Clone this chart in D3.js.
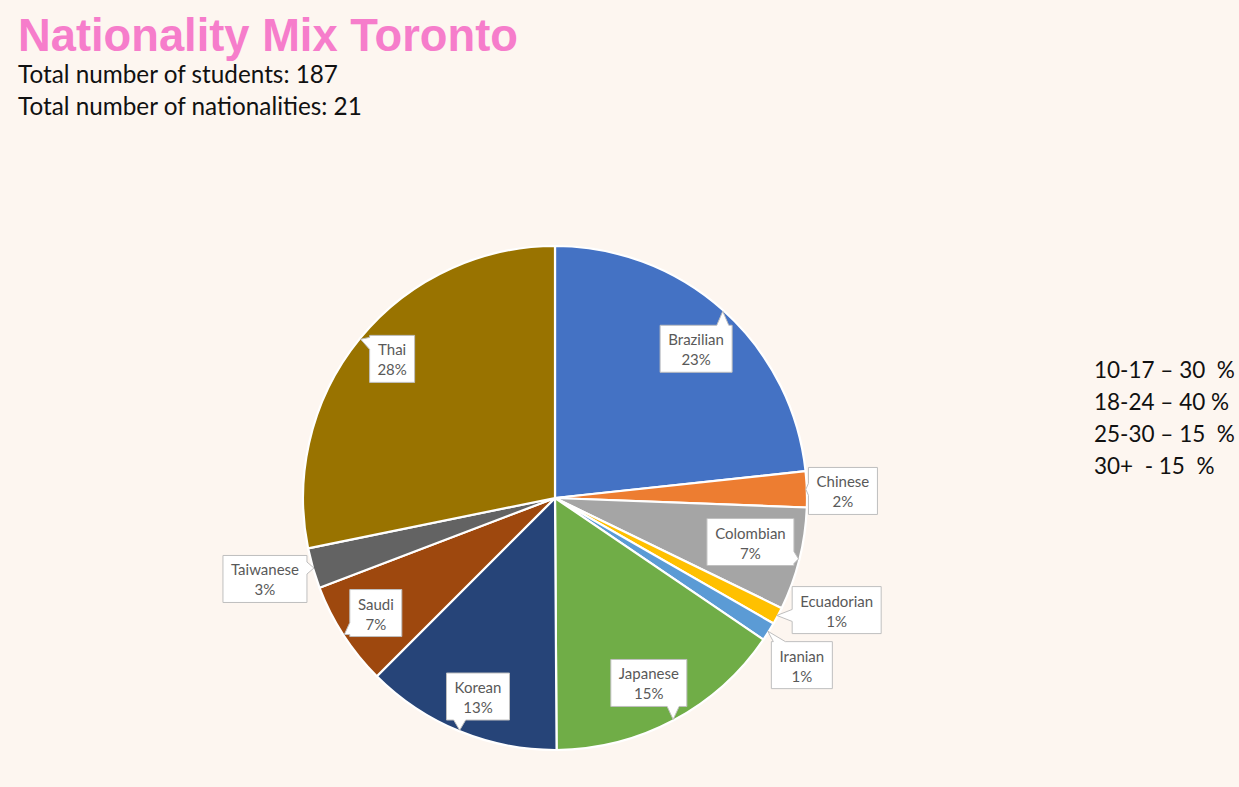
<!DOCTYPE html>
<html>
<head>
<meta charset="utf-8">
<script src="https://cdn.jsdelivr.net/npm/d3@7/dist/d3.min.js"></script>
<style>
  html, body { margin: 0; padding: 0; background: #FDF6F0; }
  svg { display: block; }
</style>
</head>
<body>
<svg id="chart" width="1239" height="787"></svg>
<script>
// ---- data ----
const categories = ["Brazilian", "Chinese", "Colombian", "Ecuadorian", "Iranian",
                    "Japanese", "Korean", "Saudi", "Taiwanese", "Thai"];
const values = [23.3, 2.3, 6.6, 1.1, 1.2, 15.4, 12.6, 6.7, 2.6, 28.2];
const colors = ["#4472C4", "#ED7D31", "#A5A5A5", "#FFC000", "#5B9BD5",
                "#70AD47", "#264478", "#9E480E", "#636363", "#997300"];
const titleText = "Nationality Mix Toronto";
const subtitleLines = ["Total number of students: 187", "Total number of nationalities: 21"];
const ageLines = ["10-17 \u2013 30  %", "18-24 \u2013 40 %", "25-30 \u2013 15  %", "30+  - 15  %"];

// label placement (angle in degrees clockwise from top, radius as fraction of pie radius)
const labelPlacement = {
  Brazilian: [43.4, 0.815], Chinese: [88.6, 1.143], Colombian: [102.7, 0.795],
  Ecuadorian: [111.7, 1.203], Iranian: [124.1, 1.183], Japanese: [153.1, 0.823],
  Korean: [201.2, 0.845], Saudi: [237.3, 0.845], Taiwanese: [254.4, 1.195],
  Thai: [310.5, 0.85]
};

const svg = d3.select("#chart");
const W = 1239, H = 787;
svg.append("rect").attr("width", W).attr("height", H).attr("fill", "#FDF6F0");

// title
svg.append("text").attr("x", 18).attr("y", 51)
  .attr("font-family", "Liberation Sans, Arial, sans-serif")
  .attr("font-weight", "bold").attr("font-size", 45.3)
  .attr("fill", "#F67DCB").text(titleText);

const bodyFont = "Lato, Carlito, Calibri, sans-serif";
svg.selectAll("text.sub").data(subtitleLines).join("text").attr("class", "sub")
  .attr("x", 18).attr("y", (d, i) => 83 + i * 32)
  .attr("font-family", bodyFont)
  .attr("font-size", 24.3).attr("fill", "#111").text(d => d);

svg.selectAll("text.age").data(ageLines).join("text").attr("class", "age")
  .attr("x", 1094).attr("y", (d, i) => 378 + i * 32)
  .style("white-space", "pre")
  .attr("font-family", bodyFont)
  .attr("font-size", 22.5).attr("fill", "#111").text(d => d);

// pie
const cx = 555, cy = 498, R = 252;
const total = d3.sum(values);
const rows = categories.map((c, i) => ({ name: c, value: values[i], color: colors[i] }));
const pie = d3.pie().value(d => d.value).sort(null);
const arcs = pie(rows);
const arc = d3.arc().innerRadius(0).outerRadius(R);

const g = svg.append("g").attr("transform", `translate(${cx},${cy})`);
g.selectAll("path.slice").data(arcs).join("path").attr("class", "slice")
  .attr("d", arc).attr("fill", d => d.data.color)
  .attr("stroke", "#ffffff").attr("stroke-width", 2.2).attr("stroke-linejoin", "round");

// callouts
const pct = d3.format(".0%");
const polar = (deg, r) => {
  const a = deg * Math.PI / 180;
  return [r * Math.sin(a), -r * Math.cos(a)];
};
const lblSize = 15;
const measure = svg.append("text").attr("font-family", bodyFont).attr("font-size", lblSize).attr("opacity", 0);

arcs.forEach(d => {
  const name = d.data.name;
  const mid = (d.startAngle + d.endAngle) / 2;
  const tip = [ (R - 1) * Math.sin(mid), -(R - 1) * Math.cos(mid) ];
  const [ang, rf] = labelPlacement[name];
  const c = polar(ang, rf * R);
  const l1 = name, l2 = pct(d.data.value / total);
  measure.text(l1); const w1 = measure.node().getComputedTextLength();
  measure.text(l2); const w2 = measure.node().getComputedTextLength();
  const bw = Math.round(Math.max(w1, w2) + 16), bh = 47;
  const x0 = c[0] - bw / 2, y0 = c[1] - bh / 2, x1 = x0 + bw, y1 = y0 + bh;

  const ndx = (tip[0] - c[0]) / (bw / 2), ndy = (tip[1] - c[1]) / (bh / 2);
  const inside = Math.abs(ndx) <= 1 && Math.abs(ndy) <= 1;
  const hw = 6;
  const clamp = (v, a, b) => Math.max(a, Math.min(b, v));
  let p;
  if (inside) {
    p = `M${x0},${y0}H${x1}V${y1}H${x0}Z`;
  } else if (Math.abs(ndy) >= Math.abs(ndx)) {
    const bx = clamp(tip[0], x0 + hw + 2, x1 - hw - 2);
    if (ndy < 0) {
      p = `M${x0},${y0}H${bx - hw}L${tip[0]},${tip[1]}L${bx + hw},${y0}H${x1}V${y1}H${x0}Z`;
    } else {
      p = `M${x0},${y0}H${x1}V${y1}H${bx + hw}L${tip[0]},${tip[1]}L${bx - hw},${y1}H${x0}Z`;
    }
  } else {
    const by = clamp(tip[1], y0 + hw + 2, y1 - hw - 2);
    if (ndx < 0) {
      p = `M${x0},${y0}H${x1}V${y1}H${x0}V${by + hw}L${tip[0]},${tip[1]}L${x0},${by - hw}Z`;
    } else {
      p = `M${x0},${y0}H${x1}V${by - hw}L${tip[0]},${tip[1]}L${x1},${by + hw}V${y1}H${x0}Z`;
    }
  }
  const lg = g.append("g");
  lg.append("path").attr("d", p).attr("fill", "#ffffff")
    .attr("stroke", "#BFBFBF").attr("stroke-width", 1).attr("stroke-linejoin", "miter");
  lg.append("text").attr("x", c[0]).attr("y", y0 + 20).attr("text-anchor", "middle")
    .attr("font-family", bodyFont).attr("font-size", lblSize).attr("fill", "#595959").text(l1);
  lg.append("text").attr("x", c[0]).attr("y", y0 + 40).attr("text-anchor", "middle")
    .attr("font-family", bodyFont).attr("font-size", lblSize).attr("fill", "#595959").text(l2);
});
measure.remove();
</script>
</body>
</html>
